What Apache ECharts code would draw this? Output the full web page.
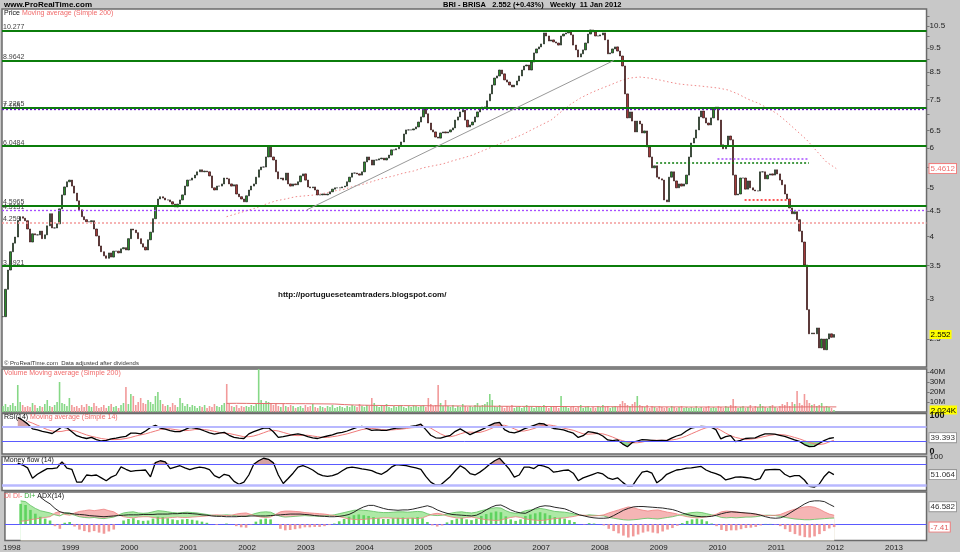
<!DOCTYPE html>
<html><head><meta charset="utf-8">
<script src="https://cdn.jsdelivr.net/npm/echarts@6/dist/echarts.min.js"></script>
<style>html,body{margin:0;padding:0;background:#c8c8c8}#c{width:960px;height:552px}</style>
</head><body><div id="c"></div>
<script>
// ---------- DATA ----------
const priceStart = 1997.9, priceStep = 1/24;   // semi-monthly closes
const closes = [
2.77,3.14,3.43,3.73,3.88,3.99,4.30,4.38,4.35,4.30,
4.14,3.90,4.05,4.03,4.03,4.10,3.96,4.03,4.20,4.44,
4.16,4.16,4.24,4.54,4.84,5.02,5.14,5.18,5.04,4.88,
4.71,4.52,4.38,4.32,4.28,4.28,4.30,4.14,4.01,3.83,
3.73,3.66,3.62,3.71,3.64,3.74,3.74,3.71,3.78,3.80,
3.76,3.96,4.14,4.12,4.07,3.96,3.87,3.81,3.76,3.94,
4.08,4.34,4.60,4.75,4.80,4.77,4.73,4.73,4.69,4.64,
4.58,4.64,4.73,4.84,5.04,5.18,5.18,5.23,5.30,5.38,
5.43,5.38,5.40,5.38,5.28,5.00,4.95,5.04,5.04,5.09,
5.23,5.21,5.09,5.04,5.07,4.86,4.80,4.75,4.69,4.82,
4.95,5.04,5.09,5.25,5.43,5.50,5.50,5.76,6.06,5.76,
5.68,5.38,5.21,5.23,5.18,5.35,5.09,5.04,5.09,5.07,
5.14,5.28,5.33,5.18,5.02,5.00,5.02,4.95,4.84,4.84,
4.86,4.84,4.86,4.91,4.97,5.00,5.00,5.00,5.02,5.04,
5.14,5.25,5.35,5.35,5.33,5.30,5.38,5.63,5.76,5.68,
5.55,5.68,5.68,5.71,5.73,5.68,5.73,5.81,5.95,5.95,
5.98,6.06,6.17,6.40,6.52,6.52,6.52,6.55,6.61,6.76,
6.92,7.18,7.02,6.73,6.52,6.46,6.31,6.28,6.43,6.46,
6.43,6.46,6.52,6.58,6.82,6.92,7.08,7.14,6.82,6.61,
6.67,6.76,6.92,7.08,7.18,7.24,7.24,7.45,7.69,8.01,
8.27,8.35,8.58,8.43,8.20,8.12,8.01,7.94,8.01,8.16,
8.35,8.58,8.74,8.78,8.58,8.90,9.28,9.45,9.54,9.67,
10.17,10.03,9.80,9.85,9.76,9.71,9.62,10.03,10.12,10.17,
10.26,10.08,9.62,9.41,9.11,9.24,9.41,9.71,10.12,10.31,
10.22,10.03,10.03,10.08,10.17,9.85,9.24,9.28,9.45,9.54,
9.36,9.15,8.74,7.69,6.89,7.08,6.79,6.46,6.79,6.70,
6.43,6.49,6.03,5.76,5.48,5.53,5.25,5.21,5.18,4.73,
4.69,5.25,5.38,5.16,5.00,5.09,5.04,5.09,5.30,5.76,
6.14,6.28,6.52,6.92,7.11,6.89,6.73,6.67,6.89,7.18,
7.24,6.82,6.09,5.98,6.06,6.34,6.23,5.30,4.84,4.86,
5.23,5.23,4.97,5.16,5.00,4.95,4.93,4.93,5.38,5.38,
5.21,5.30,5.33,5.30,5.43,5.33,5.18,5.07,4.86,4.75,
4.56,4.44,4.48,4.32,4.10,3.90,3.51,2.86,2.56,2.57,
2.56,2.63,2.40,2.50,2.38,2.50,2.56,2.52,2.552];
const volumes = [ // millions, same dates as closes
6,8,5,7,9,6,27,10,7,5, 6,5,9,7,4,6,5,8,12,6, 5,7,10,30,9,8,6,14,7,5, 6,4,7,5,8,6,5,9,6,4,
5,7,4,6,8,5,6,4,7,9, 25,8,18,16,7,10,14,9,8,12, 10,8,16,20,12,8,6,7,5,9, 7,5,14,9,6,8,5,7,6,4,
6,5,7,4,6,5,8,6,5,7, 9,28,8,6,5,7,4,6,5,6, 5,7,6,8,43,12,9,11,10,8, 7,9,6,5,8,6,5,7,6,4,
5,6,4,7,5,6,8,5,4,6, 5,4,6,5,7,4,5,6,5,4, 6,5,7,6,5,8,6,5,7,6, 14,9,6,5,7,6,8,5,4,6,
5,6,7,5,4,6,5,7,6,5, 6,7,5,14,8,6,7,27,9,6, 12,6,5,7,4,6,5,8,6,5, 6,5,7,9,6,7,8,10,18,12,
6,5,7,5,4,6,5,7,4,5, 6,4,5,7,5,6,4,5,6,5, 7,5,4,6,5,6,4,16,5,6, 4,5,6,4,5,7,4,5,6,4,
5,4,6,5,7,5,6,4,5,6, 5,8,11,9,7,6,8,10,16,7, 6,5,7,4,6,5,4,6,5,4, 5,4,6,5,4,5,6,4,5,4,
5,4,6,4,5,4,5,6,4,5, 4,6,5,4,6,5,7,13,6,4, 5,6,4,5,7,4,6,5,8,6, 5,4,6,7,5,4,6,8,7,10,
6,10,8,21,9,7,18,12,9,7, 8,6,7,9,5,6,5,4,2.024];
const maStart = 2001.69, maStep = 1/6;
const ma200 = [
4.38,4.44,4.50,4.56,4.64,4.71,4.75,4.80,4.82,4.84,
4.88,4.93,4.97,5.04,5.09,5.16,5.23,5.28,5.35,5.40,
5.48,5.53,5.58,5.66,5.73,5.81,5.92,6.03,6.14,6.26,
6.37,6.52,6.67,6.82,7.08,7.34,7.55,7.72,7.87,8.01,
8.16,8.27,8.31,8.27,8.20,8.12,8.05,8.01,7.98,7.94,
7.90,7.83,7.69,7.51,7.38,7.21,7.02,6.76,6.49,6.23,
5.92,5.63,5.4612];
const volMA = [
8.6,8.7,8.6,8.5,8.5,8.4,8.4,8.3,8.3,8.2,8.1,8.0,
7.4,7.0,6.8,6.6,6.5,6.4,6.4,6.3,6.3,6.2,6.2,6.1,
6.0,5.9,5.9,5.8,5.7,5.7,5.6,5.6,5.5,5.5,5.5,5.4,
5.3,5.3,5.3,5.3,5.3,5.2,5.2,5.2,5.1,5.1,5.1,5.0,
5.0,5.0,5.0,5.0,5.0,5.0,5.0,5.0,5.0,5.0,5.0,5.1,5.1,5.1,5.1];
const indStart = 1997.9, indStep = 1/12;   // monthly indicator readings
const rsi = [
null,null,null,96,88,78,64,61,57,54, 51,60,69,67,56,45,40,37,40,34, 30,32,36,38,41,43,52,52,50,58,
68,74,66,63,59,56,56,62,68,66, 63,58,53,49,52,54,46,40,38,37, 50,56,61,66,67,56,40,42,45,48,
50,47,42,39,37,41,44,47,52,54, 58,63,68,71,65,60,61,60,60,63, 66,67,68,71,73,77,62,46,39,38,
42,46,57,64,56,48,54,60,66,74, 80,82,62,55,53,57,64,69,74,79, 78,70,65,63,61,56,52,40,45,56,
54,51,44,33,31,33,22,14,26,30, 34,33,32,31,32,31,38,44,48,58, 66,69,71,70,69,62,36,42,45,28,
32,37,38,39,45,50,50,49,46,43, 38,33,29,20,14,15,23,31,37,39.393];
const rsiMA = [
null,null,null,null,null,85,80,74,68,62, 58,56,57,60,60,57,52,47,43,40, 37,35,34,34,35,37,40,44,47,50,
54,58,62,64,64,62,60,59,60,62, 63,62,60,57,54,52,51,48,45,42, 42,44,48,53,58,60,58,54,50,46,
45,46,46,44,42,40,40,42,44,47, 50,54,58,62,64,65,64,62,61,61, 62,63,65,67,68,70,70,66,58,50,
44,42,45,50,54,55,54,54,58,63, 69,74,74,70,64,58,58,61,65,70, 74,75,73,70,66,63,60,55,50,49,
50,51,50,46,41,35,31,27,25,25, 27,30,32,32,32,32,33,35,39,44, 50,56,62,67,69,67,60,52,45,40,
37,35,35,37,40,43,46,48,48,47, 44,40,36,31,26,22,20,22,27,32];
const mfi = [
null,null,null,83,78,70,41,52,60,68, 68,70,87,69,66,30,30,50,48,50, 42,34,44,50,73,66,60,62,63,64,
45,85,90,87,68,72,76,70,65,69, 72,70,65,48,42,52,48,32,24,30, 50,80,90,97,94,84,50,26,40,55,
72,76,71,64,54,48,46,48,53,62, 70,72,70,67,65,62,56,52,60,72, 79,78,76,73,70,66,46,30,22,22,
34,46,62,76,68,54,50,58,68,80, 90,97,82,66,44,50,72,72,68,78, 75,70,58,60,63,64,55,34,42,47,
52,57,53,42,38,42,30,19,19,40, 58,61,55,28,38,52,58,64,66,69, 70,72,74,64,58,54,48,36,40,44,
45,43,41,36,40,64,65,66,65,52, 45,48,48,36,18,16,24,45,59,51.064];
const adx = [
null,null,null,null,null,null,null,72,62,54, 42,33,30,29,27,26,25,23,22,21, 20,21,22,23,24,25,25,25,26,26,
26,27,27,27,28,28,29,29,28,27, 25,24,22,21,21,20,20,20,21,21, 22,22,22,22,23,24,25,26,27,27,
27,26,25,23,22,21,20,20,21,23, 26,32,40,46,50,50,46,42,39,38, 37,38,38,40,43,46,49,45,38,33,
29,26,25,24,23,22,24,30,38,45, 50,51,45,38,33,30,29,35,42,47, 49,48,45,43,41,36,30,25,22,19,
17,16,16,17,23,30,37,42,46,47, 47,46,45,44,43,41,39,35,30,26, 23,21,20,20,21,24,28,31,33,32,
31,30,29,27,24,20,17,16,17,22, 30,38,46,54,60,62,62,60,53,46.582];
const diPlus = [
null,null,null,62,60,50,42,36,33,30, 25,22,30,30,24,20,18,17,18,16, 15,17,19,25,30,32,33,30,29,30,
33,36,35,33,31,30,31,32,31,30, 28,26,24,23,24,25,24,22,21,21, 25,29,32,33,32,26,21,19,20,21,
22,23,22,22,21,22,23,25,28,31, 34,37,38,37,36,34,32,31,31,32, 33,33,32,33,34,33,28,24,23,24,
27,30,32,33,31,30,32,36,39,42, 44,43,36,31,29,31,36,38,40,42, 40,37,34,33,32,30,27,24,23,25,
24,23,22,18,16,14,12,11,12,13, 15,16,15,14,16,18,20,23,26,29, 31,32,31,28,25,22,18,17,18,17,
18,19,19,20,22,24,24,23,21,18, 16,14,13,12,12,13,14,15,16,16.496];
const diMinus = [
null,null,null,8,9,12,14,16,18,20, 30,34,26,24,30,34,36,38,36,38, 40,36,33,25,20,18,17,19,20,20,
18,16,16,17,18,19,18,18,19,20, 21,22,24,25,24,23,24,27,29,30, 26,22,19,18,19,26,33,35,35,34,
33,31,30,29,28,27,25,23,20,17, 14,13,12,13,14,15,16,17,17,16, 16,15,16,16,15,17,22,27,29,27,
22,19,17,16,18,19,17,14,12,11, 10,11,15,18,20,18,14,12,11,10, 11,13,15,16,17,19,21,24,24,22,
22,23,25,30,34,38,42,46,44,40, 37,35,37,38,35,32,30,27,23,20, 18,17,18,20,23,27,33,35,34,33,
31,29,28,27,25,23,23,24,26,31, 36,40,43,46,47,45,40,33,27,23.906];
const priceTicks = [2.5,3,3.5,4,4.5,5,6,6.5,7.5,8.5,9.5,10.5];
const priceMinorTicks = [5.5,7,8,9,10,11];
const volTicks = [10,20,30,40];
const yearTicks = [1998,1999,2000,2001,2002,2003,2004,2005,2006,2007,2008,2009,2010,2011,2012,2013];
const levelsSolid = [10.277, 8.9642, 7.2265, 6.0484, 4.5965, 3.4921];
const levelsPurple = [7.155, 4.5131];
const levelPink = 4.259;
const shortLines = [ // [fromYear, toYear, price]
  {from:2008.97, to:2011.56, value:5.61, color:'#0a7a0a'},
  {from:2010.01, to:2011.54, value:5.70, color:'#a64dff'},
  {from:2010.47, to:2011.27, value:4.73, color:'#ff2020'}];
const trendLine = {from:[2003.05, 4.52], to:[2008.25, 8.96]};

// ---------- BUILD ----------
const FONT = '"Liberation Sans", Arial, sans-serif';
const X_MIN = 1997.883, X_MAX = 2013.554;
const px = i => priceStart + i*priceStep;
const ix = i => indStart + i*indStep;
const mx = i => maStart + i*maStep;
const isUp = closes.map((c,i)=> i===0 ? true : c >= closes[i-1]);
const candleData = closes.map((c,i)=>{const o = i ? closes[i-1] : c; return [px(i), o, c, Math.min(o,c), Math.max(o,c)];});
const volData = volumes.map((v,i)=>({value:[px(i), v], itemStyle:{color: isUp[i] ? '#86d886' : '#f29a9a'}}));
const lineOf = (arr, xf) => arr.map((v,i)=> v==null ? null : [xf(i), v]).filter(d=>d);
const mapOf = (arr, f) => arr.map((v,i)=> v==null ? null : [ix(i), f(v,i)]).filter(d=>d);
const lastClose = closes[closes.length-1], lastMA = ma200[ma200.length-1];
const lastVol = volumes[volumes.length-1];
const lastRsi = rsi[rsi.length-1], lastMfi = mfi[mfi.length-1];
const lastAdx = adx[adx.length-1], lastDm = diMinus[diMinus.length-1];
const lastDiff = +(diPlus[diPlus.length-1] - lastDm).toFixed(2);
const near = (a,b)=> Math.abs(a-b) < 1e-6;

// filled zone between an indicator and a level (area with a numeric origin)
function zone(arr, level, above, color, xi, yi){
  return {type:'line', xAxisIndex:xi, yAxisIndex:yi, silent:true, symbol:'none', z:2,
    data: mapOf(arr, v => above ? Math.max(v, level) : Math.min(v, level)),
    lineStyle:{width:0, opacity:0}, areaStyle:{color, opacity:1, origin:level}};
}
const diffBars = [];
diPlus.forEach((p,i)=>{ const m = diMinus[i]; if(p==null||m==null) return;
  const d = p-m; diffBars.push({value:[ix(i), d], itemStyle:{color: d>=0 ? '#5fd35f' : '#f19a9a'}}); });

const grids = [
  {left:2, top:9, width:934, height:358},
  {left:2, top:369, width:934, height:43},
  {left:2, top:413.5, width:934, height:40.5},
  {left:2, top:456.5, width:934, height:34},
  {left:2, top:492, width:934, height:48.5}].map(g=>Object.assign(g,{show:true, backgroundColor:'#fff', borderColor:'#6a6a6a', borderWidth:1.5}));

const xAxes = grids.map((g,k)=>({type:'value', gridIndex:k, min:X_MIN, max:X_MAX,
  axisLine:{show:false}, axisTick:{show:false}, splitLine:{show:false},
  axisLabel: k===4 ? {show:true, hideOverlap:false, customValues:yearTicks, formatter:v=>String(v), fontSize:8, color:'#222', margin:3, fontFamily:FONT} : {show:false}}));

const lbl = (extra)=>Object.assign({fontSize:8, color:'#222', margin:3, fontFamily:FONT, hideOverlap:false, showMinLabel:true, showMaxLabel:true}, extra);
const boxRich = {
  hl:{backgroundColor:'#ffff00', color:'#000', padding:[1,1,0,1], fontSize:8, fontFamily:FONT},
  ma:{backgroundColor:'#fff', borderColor:'#f08080', borderWidth:1, color:'#f07070', padding:[1,1,0,1], fontSize:8, fontFamily:FONT},
  bx:{backgroundColor:'#fff', borderColor:'#999', borderWidth:1, color:'#333', padding:[1,1,0,1], fontSize:8, fontFamily:FONT},
  pk:{backgroundColor:'#fff', borderColor:'#f08080', borderWidth:1, color:'#e06060', padding:[1,1,0,1], fontSize:8, fontFamily:FONT},
  pt:{color:'#f07070', fontSize:8, fontFamily:FONT, backgroundColor:'#fff', padding:[1,1,0,1]},
  b:{fontWeight:'bold', fontSize:9, color:'#111', fontFamily:FONT},
  s:{fontSize:6, color:'#444', fontFamily:FONT}};
const tickStyle = {show:true, length:3, lineStyle:{color:'#777'}};
const yAxes = [
  {type:'log', gridIndex:0, position:'right', min:2.199, max:11.35, splitLine:{show:false}, axisLine:{show:false},
   axisTick:Object.assign({customValues:priceTicks.concat(priceMinorTicks)}, tickStyle),
   axisLabel:lbl({customValues:priceTicks.concat([lastMA, lastClose]), rich:boxRich,
     formatter:v=> near(v,lastClose) ? '{hl|'+v+'}' : near(v,lastMA) ? '{ma|'+v+'}' : String(v)})},
  {type:'value', gridIndex:1, position:'right', min:0, max:43, splitLine:{show:false}, axisLine:{show:false},
   axisTick:Object.assign({customValues:volTicks}, tickStyle),
   axisLabel:lbl({customValues:volTicks.concat([lastVol]), rich:boxRich,
     formatter:v=> near(v,lastVol) ? '{hl|'+(v*1000).toLocaleString('en-US',{maximumFractionDigits:0})+'K}' : v+'M'})},
  {type:'value', gridIndex:2, position:'right', min:-6.4, max:107, splitLine:{show:false}, axisLine:{show:false}, axisTick:{show:false},
   axisLabel:lbl({customValues:[0,50,lastRsi,100], rich:boxRich,
     formatter:v=> near(v,lastRsi) ? '{bx|'+v+'}' : v===50 ? '{s|50}' : '{b|'+v+'}'})},
  {type:'value', gridIndex:3, position:'right', min:6.5, max:101.9, splitLine:{show:false}, axisLine:{show:false}, axisTick:{show:false},
   axisLabel:lbl({customValues:[lastMfi,100], rich:boxRich,
     formatter:v=> near(v,lastMfi) ? '{bx|'+v+'}' : String(v)})},
  {type:'value', gridIndex:4, position:'right', min:-42.9, max:85.4, splitLine:{show:false}, axisLine:{show:false}, axisTick:{show:false},
   axisLabel:lbl({customValues:[lastDiff,0,lastDm,lastAdx], rich:boxRich,
     formatter:v=> near(v,lastAdx) ? '{bx|'+v+'}' : near(v,lastDm) ? '{pt|'+v+'}' : near(v,lastDiff) ? '{pk|'+v.toFixed(2)+'}' : '{s|0}'})}];

const lvlLabel = (v)=>({show:true, position:'insideStartTop', distance:[1,0], formatter:String(v), fontSize:7, color:'#444', fontFamily:FONT});
const priceMarkLines = [].concat(
  levelsSolid.map(v=>({yAxis:v, lineStyle:{color:'#0b7d0b', width:2, type:'solid'}, label:lvlLabel(v)})),
  levelsPurple.map((v,k)=>({yAxis:v, lineStyle:{color: k===0 ? '#6a0dc8' : '#a64dff', width:1.3, type:[2,2]}, label:lvlLabel(v)})),
  [{yAxis:levelPink, lineStyle:{color:'#f49a9a', width:1.5, type:[2,2]}, label:lvlLabel(levelPink)}],
  shortLines.map(s=>[{coord:[s.from, s.value], lineStyle:{color:s.color, width:1.5, type:[2,2]}, label:{show:false}}, {coord:[s.to, s.value]}]),
  [[{coord:trendLine.from, lineStyle:{color:'#999', width:1, type:'solid'}, label:{show:false}}, {coord:trendLine.to}]]);

const hline = (v,color,width)=>({yAxis:v, lineStyle:{color, width, type:'solid'}, label:{show:false}});

const series = [
  {type:'line', name:'MA200', xAxisIndex:0, yAxisIndex:0, data:lineOf(ma200, mx), symbol:'none', z:3,
   lineStyle:{color:'#f08a8a', width:1, type:[1.5,2.5]},
   markLine:{symbol:'none', silent:true, animation:false, data:priceMarkLines}},
  {type:'candlestick', name:'Price', xAxisIndex:0, yAxisIndex:0, data:candleData, encode:{x:0, y:[1,2,3,4]}, barWidth:1.8, z:4,
   itemStyle:{color:'#2b8c2b', color0:'#a33a3a', borderColor:'#1a1a1a', borderColor0:'#2a1010', borderWidth:0.7}},
  {type:'bar', xAxisIndex:1, yAxisIndex:1, data:volData, barWidth:1.6, z:2},
  {type:'line', xAxisIndex:1, yAxisIndex:1, data:lineOf(volMA, mx), symbol:'none', lineStyle:{color:'#e36f6f', width:1}, z:3},
  zone(rsi, 70, true, '#d6a3a3', 2, 2),
  zone(rsi, 30, false, '#93d693', 2, 2),
  {type:'line', xAxisIndex:2, yAxisIndex:2, data:lineOf(rsiMA, ix), symbol:'none', lineStyle:{color:'#f07a7a', width:1}, z:3,
   markLine:{symbol:'none', silent:true, animation:false, data:[hline(70,'#b8b8ff',2), hline(30,'#5a5aff',1)]}},
  {type:'line', xAxisIndex:2, yAxisIndex:2, data:lineOf(rsi, ix), symbol:'none', lineStyle:{color:'#000', width:1.3}, z:4},
  zone(mfi, 80, true, '#d6a3a3', 3, 3),
  zone(mfi, 20, false, '#93d693', 3, 3),
  {type:'line', xAxisIndex:3, yAxisIndex:3, data:lineOf(mfi, ix), symbol:'none', lineStyle:{color:'#000', width:1.3}, z:4,
   markLine:{symbol:'none', silent:true, animation:false, data:[hline(80,'#5a5aff',1), hline(20,'#b8b8ff',2.5)]}},
  // DI cloud: green under DI+, pink under DI-, then blank out below the lower of the two
  {type:'line', xAxisIndex:4, yAxisIndex:4, data:lineOf(diPlus, ix), symbol:'none', silent:true, lineStyle:{width:0, opacity:0}, areaStyle:{color:'#ade9a5', opacity:1, origin:'start'}, z:2},
  {type:'line', xAxisIndex:4, yAxisIndex:4, data:mapOf(diMinus, (m,i)=> diPlus[i] > m ? -100 : m), symbol:'none', silent:true, lineStyle:{width:0, opacity:0}, areaStyle:{color:'#f5b5b5', opacity:1, origin:'start'}, z:3, connectNulls:true},
  {type:'line', xAxisIndex:4, yAxisIndex:4, data:mapOf(diMinus, (m,i)=> Math.min(m, diPlus[i])), symbol:'none', silent:true, lineStyle:{width:0, opacity:0}, areaStyle:{color:'#ffffff', opacity:1, origin:'start'}, z:4},
  {type:'bar', xAxisIndex:4, yAxisIndex:4, data:diffBars, barWidth:2.6, z:5,
   markLine:{symbol:'none', silent:true, animation:false, data:[hline(0,'#5a5aff',1.2)]}},
  {type:'line', xAxisIndex:4, yAxisIndex:4, data:lineOf(diPlus, ix), symbol:'none', lineStyle:{color:'#5cbf5c', width:0.8}, z:6},
  {type:'line', xAxisIndex:4, yAxisIndex:4, data:lineOf(diMinus, ix), symbol:'none', lineStyle:{color:'#ef7f7f', width:0.8}, z:6},
  {type:'line', xAxisIndex:4, yAxisIndex:4, data:lineOf(adx, ix), symbol:'none', lineStyle:{color:'#111', width:0.9}, z:7}];

const T = (left, top, text, rich)=>({type:'text', left, top, z:100, silent:true, style:{text, rich, font:'7px '+FONT, fill:'#000'}});
const R = {k:{fontSize:7, fill:'#111', fontFamily:FONT}, p:{fontSize:7, fill:'#f06a6a', fontFamily:FONT}, g:{fontSize:7, fill:'#3aaa3a', fontFamily:FONT}};
const graphic = [
  {type:'text', left:4, top:0.5, z:100, style:{text:'www.ProRealTime.com', font:'bold 8px '+FONT, fill:'#000'}},
  {type:'text', left:443, top:0.5, z:100, style:{text:'BRI - BRISA   2.552 (+0.43%)   Weekly  11 Jan 2012', font:'bold 7.5px '+FONT, fill:'#000'}},
  T(4, 10, '{k|Price }{p|Moving average (Simple 200)}', R),
  {type:'text', left:4, top:360, z:100, style:{text:'\u00a9 ProRealTime.com  Data adjusted after dividends', font:'6px '+FONT, fill:'#333'}},
  {type:'text', left:278, top:290.5, z:100, style:{text:'http://portugueseteamtraders.blogspot.com/', font:'bold 8px '+FONT, fill:'#111'}},
  T(4, 369.5, '{p|Volume Moving average (Simple 200)}', R),
  T(4, 414, '{k|RSI(14) }{p|Moving average (Simple 14)}', R),
  T(4, 457, '{k|Money flow (14)}', R),
  T(4, 493, '{p|DI DI- }{g|DI+ }{k|ADX(14)}', R)];

const chart = echarts.init(document.getElementById('c'), null, {renderer:'canvas'});
chart.setOption({backgroundColor:'#c8c8c8', animation:false, grid:grids, xAxis:xAxes, yAxis:yAxes, series, graphic});
</script></body></html>
